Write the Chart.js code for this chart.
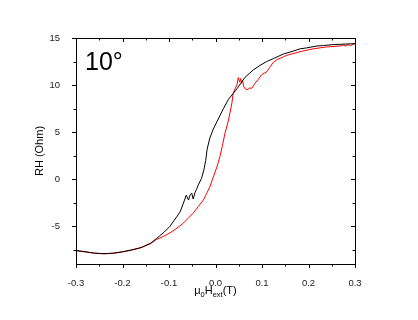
<!DOCTYPE html>
<html>
<head>
<meta charset="utf-8">
<script src="https://cdn.jsdelivr.net/npm/chart.js@4/dist/chart.umd.min.js"></script>
<style>
html,body{margin:0;padding:0;background:#fff;}
#wrap{width:418px;height:320px;position:relative;}
</style>
</head>
<body>
<div id="wrap"><canvas id="c" width="418" height="320"></canvas></div>
<script>
// ---- data ----
const blackX = [-0.30,-0.28,-0.26,-0.24,-0.22,-0.20,-0.18,-0.16,-0.14,-0.127,-0.11,-0.098,-0.085,-0.076,-0.068,-0.063,-0.058,-0.054,-0.051,-0.048,-0.044,-0.041,-0.037,-0.030,-0.025,-0.021,-0.018,-0.012,-0.005,0.006,0.017,0.028,0.038,0.049,0.063,0.081,0.096,0.110,0.124,0.146,0.160,0.182,0.196,0.218,0.232,0.253,0.268,0.300];
const blackY = [-7.55,-7.7,-7.85,-7.9,-7.85,-7.7,-7.5,-7.25,-6.8,-6.3,-5.6,-5.0,-4.1,-3.45,-2.4,-1.7,-2.2,-1.6,-1.5,-2.1,-1.4,-1.1,-0.6,0.1,1.0,2.0,3.2,4.4,5.3,6.4,7.5,8.5,9.1,9.8,10.8,11.6,12.1,12.5,12.8,13.3,13.5,13.85,13.95,14.15,14.2,14.3,14.33,14.4];
const redX = [-0.30,-0.28,-0.26,-0.24,-0.22,-0.20,-0.18,-0.16,-0.14,-0.127,-0.113,-0.098,-0.083,-0.069,-0.058,-0.048,-0.037,-0.026,-0.019,-0.012,-0.005,0.003,0.010,0.015,0.020,0.028,0.035,0.038,0.042,0.046,0.049,0.052,0.054,0.056,0.058,0.061,0.064,0.068,0.074,0.078,0.085,0.092,0.099,0.110,0.117,0.124,0.132,0.146,0.153,0.182,0.210,0.239,0.268,0.275,0.280,0.285,0.290,0.300];
const redY = [-7.6,-7.72,-7.85,-7.92,-7.87,-7.72,-7.52,-7.27,-6.85,-6.4,-6.1,-5.7,-5.2,-4.65,-4.1,-3.6,-2.9,-2.2,-1.5,-0.8,0.2,1.3,2.5,3.6,4.8,6.3,8.0,9.1,9.6,10.0,10.8,10.3,10.7,10.2,10.5,9.8,9.6,9.5,9.7,9.65,10.2,10.6,11.1,11.4,11.9,12.4,12.7,13.0,13.15,13.55,13.85,14.05,14.15,14.25,14.15,14.3,14.2,14.4];
const xMajorTicks = [-0.3,-0.2,-0.1,0.0,0.1,0.2,0.3];
const yMajorTicks = [-5,0,5,10,15];
const angleLabel = "10°";
const yTitle = "RH (Ohm)";

const toPts = (xs, ys) => xs.map((x, i) => ({x: x, y: ys[i]}));
const FONT = '"Liberation Sans", Arial, sans-serif';

const framePlugin = {
  id: 'frame',
  afterDraw(chart) {
    const ctx = chart.ctx, a = chart.chartArea;
    const xs = chart.scales.x, ys = chart.scales.y;
    ctx.save();
    ctx.strokeStyle = '#000';
    ctx.lineWidth = 1;
    ctx.strokeRect(Math.round(a.left) + 0.5, Math.round(a.top) + 0.5,
                   Math.round(a.right - a.left), Math.round(a.bottom - a.top));
    ctx.beginPath();
    // x ticks: every 0.05, major every 0.1
    for (let k = -6; k <= 6; k++) {
      const v = k * 0.05;
      const major = k % 2 === 0;
      const L = major ? 4 : 2.5;
      const px = Math.round(xs.getPixelForValue(v)) + 0.5;
      ctx.moveTo(px, a.bottom); ctx.lineTo(px, a.bottom + L);
      ctx.moveTo(px, a.top); ctx.lineTo(px, a.top + L);
    }
    // y ticks: every 2.5, major every 5
    for (let k = -3; k <= 6; k++) {
      const v = k * 2.5;
      if (v < ys.min || v > ys.max) continue;
      const major = k % 2 === 0;
      const L = major ? 4 : 2.5;
      const py = Math.round(ys.getPixelForValue(v)) + 0.5;
      ctx.moveTo(a.left, py); ctx.lineTo(a.left - L, py);
      ctx.moveTo(a.right, py); ctx.lineTo(a.right - L, py);
    }
    ctx.stroke();

    // big angle label
    ctx.fillStyle = '#000';
    ctx.font = '25px ' + FONT;
    ctx.textAlign = 'left';
    ctx.textBaseline = 'alphabetic';
    ctx.fillText(angleLabel, a.left + 9, a.top + 32);

    // x title: μ0Hext(T) with subscripts
    const parts = [['μ', 11, 0], ['0', 7.5, 3], ['H', 11, 0], ['ext', 7.5, 3], ['(T)', 11, 0]];
    let total = 0;
    parts.forEach(p => { ctx.font = p[1] + 'px ' + FONT; total += ctx.measureText(p[0]).width; });
    let cx = (a.left + a.right) / 2 - total / 2;
    const base = a.bottom + 30;
    parts.forEach(p => {
      ctx.font = p[1] + 'px ' + FONT;
      ctx.fillText(p[0], cx, base + p[2]);
      cx += ctx.measureText(p[0]).width;
    });

    // y title
    ctx.font = '11px ' + FONT;
    ctx.translate(40, (a.top + a.bottom) / 2);
    ctx.rotate(-Math.PI / 2);
    ctx.textAlign = 'center';
    ctx.textBaseline = 'middle';
    ctx.fillText(yTitle, 0, 0);
    ctx.restore();
  }
};

new Chart(document.getElementById('c'), {
  type: 'scatter',
  data: {
    datasets: [
      { data: toPts(blackX, blackY), showLine: true, borderColor: '#000', borderWidth: 1, pointRadius: 0, tension: 0 },
      { data: toPts(redX, redY), showLine: true, borderColor: '#ff0000', borderWidth: 1, pointRadius: 0, tension: 0 }
    ]
  },
  options: {
    responsive: false,
    animation: false,
    events: [],
    layout: { padding: { top: 38, right: 63, left: 0, bottom: 0 } },
    plugins: { legend: { display: false }, tooltip: { enabled: false }, title: { display: false } },
    scales: {
      x: {
        type: 'linear', min: -0.3, max: 0.3,
        afterFit: s => { s.height = 56; },
        afterBuildTicks: s => { s.ticks = xMajorTicks.map(v => ({ value: v })); },
        grid: { display: false }, border: { display: false },
        ticks: { padding: 6, color: '#222', font: { family: FONT, size: 9.5 }, maxRotation: 0, autoSkip: false,
                 callback: v => v.toFixed(1) }
      },
      y: {
        type: 'linear', min: -9, max: 15,
        afterFit: s => { s.width = 76; },
        afterBuildTicks: s => { s.ticks = yMajorTicks.map(v => ({ value: v })); },
        grid: { display: false }, border: { display: false },
        ticks: { padding: 8, color: '#222', font: { family: FONT, size: 9.5 }, autoSkip: false,
                 callback: v => String(v) }
      }
    }
  },
  plugins: [framePlugin]
});
</script>
</body>
</html>
